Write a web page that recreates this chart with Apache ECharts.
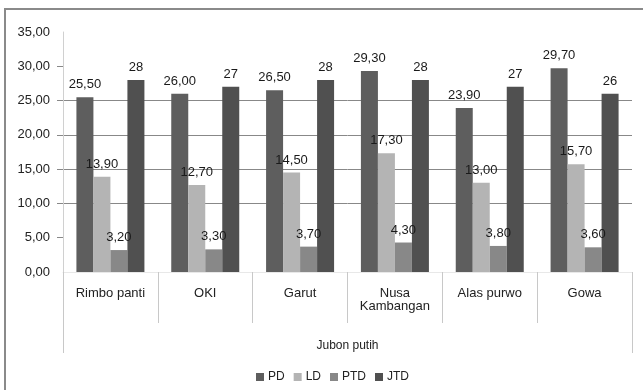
<!DOCTYPE html>
<html>
<head>
<meta charset="utf-8">
<script src="https://cdn.jsdelivr.net/npm/echarts@6/dist/echarts.min.js"></script>
<style>
html,body{margin:0;padding:0;background:#fff;}
#c{width:643px;height:390px;}
</style>
</head>
<body>
<div id="c"></div>
<script>
var categories = ['Rimbo panti', 'OKI', 'Garut', 'Nusa\nKambangan', 'Alas purwo', 'Gowa'];
var groupLabel = ['Jubon putih'];
var seriesNames = ['PD', 'LD', 'PTD', 'JTD'];
var PD = [25.5, 26.0, 26.5, 29.3, 23.9, 29.7];
var LD = [13.9, 12.7, 14.5, 17.3, 13.0, 15.7];
var PTD = [3.2, 3.3, 3.7, 4.3, 3.8, 3.6];
var JTD = [28, 27, 28, 28, 27, 26];
var yTicks = [0, 5, 10, 15, 20, 25, 30, 35];

var FONT = '"Liberation Sans", Arial, sans-serif';
var colors = ['#5e5e5e', '#b4b4b4', '#888888', '#505050'];
function fmt2(v){ return v.toFixed(2).replace('.', ','); }

var chart = echarts.init(document.getElementById('c'), null, {renderer: 'canvas'});
function mk(name, data, idx, intFmt){
  return {
    name: name, type: 'bar', data: data, xAxisIndex: 0,
    barWidth: 17, barGap: '0%',
    itemStyle: {color: colors[idx]},
    label: {
      show: true, position: 'top', distance: 6,
      fontFamily: FONT, fontSize: 13, color: '#1a1a1a',
      formatter: function(p){ return intFmt ? String(p.value) : fmt2(p.value); }
    }
  };
}
chart.setOption({
  animation: false,
  color: colors,
  textStyle: {fontFamily: FONT},
  graphic: [{
    type: 'rect', shape: {x: 5, y: 9, width: 645, height: 390},
    style: {fill: 'none', stroke: '#8a8a8a', lineWidth: 2}, silent: true, z: -1
  }],
  grid: {left: 63, right: 11, top: 32, bottom: 118, containLabel: false},
  legend: {
    left: 251, top: 366, itemWidth: 8, itemHeight: 8, itemGap: 9,
    icon: 'rect', data: seriesNames,
    textStyle: {fontFamily: FONT, fontSize: 12, color: '#222', padding: [0,0,0,-1]}
  },
  xAxis: [{
    type: 'category', data: categories, position: 'bottom',
    axisLine: {show: true, lineStyle: {color: '#e8e8e8'}},
    axisTick: {show: true, length: 51, lineStyle: {color: '#c8c8c8'}},
    axisLabel: {fontFamily: FONT, fontSize: 13, color: '#222', margin: 15, lineHeight: 13, interval: 0}
  }, {
    type: 'category', data: groupLabel, position: 'bottom',
    axisLine: {show: false},
    axisTick: {show: true, length: 81, lineStyle: {color: '#c8c8c8'}},
    axisLabel: {fontFamily: FONT, fontSize: 12, color: '#222', margin: 68}
  }],
  yAxis: {
    type: 'value', min: yTicks[0], max: yTicks[yTicks.length - 1], interval: 5,
    axisLine: {show: true, lineStyle: {color: '#d0d0d0'}},
    axisTick: {show: true, length: 6, customValues: yTicks.slice(1, yTicks.length - 1), lineStyle: {color: '#888'}},
    axisLabel: {fontFamily: FONT, fontSize: 13, color: '#222', margin: 13, formatter: fmt2},
    splitLine: {show: true, showMinLine: false, showMaxLine: false, lineStyle: {color: '#888', width: 1}}
  },
  series: [mk('PD', PD, 0, false), mk('LD', LD, 1, false), mk('PTD', PTD, 2, false), mk('JTD', JTD, 3, true)]
});
</script>
</body>
</html>
